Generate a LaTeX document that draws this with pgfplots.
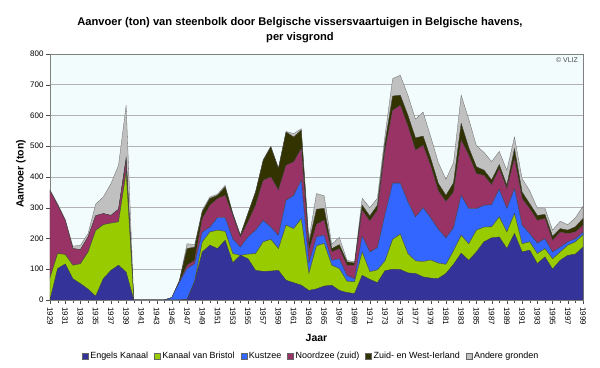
\documentclass[border=0pt]{standalone}
\usepackage{pgfplots}
\pgfplotsset{compat=1.18}
\usepackage{pgfplotstable}
\usepackage{fontspec}
\setmainfont{Liberation Sans}
\usetikzlibrary{calc}
\definecolor{cE}{HTML}{333399}
\definecolor{cB}{HTML}{99CC00}
\definecolor{cK}{HTML}{3366FF}
\definecolor{cN}{HTML}{993366}
\definecolor{cZ}{HTML}{333300}
\definecolor{cA}{HTML}{C0C0C0}
\definecolor{plotbg}{RGB}{242,252,252}
\pgfplotstableread{
year E B K N Z A
1929 0 72 0 283 0 3
1930 102 49 0 157 0 5
1931 117 31 0 111 0 3
1932 69 44 0 54 0 8
1933 53 65 0 46 0 14
1934 35 121 0 49 0 11
1935 12 214 0 48 0 38
1936 69 176 0 36 0 54
1937 96 154 0 25 0 103
1938 113 141 0 41 0 143
1939 90 325 0 37 10 171
1940 0 0 0 0 0 0
1941 0 0 0 0 0 0
1942 0 0 0 0 0 0
1943 0 0 0 0 0 0
1944 0 0 0 0 0 0
1945 0 0 8 0 0 0
1946 0 0 58 2 3 1
1947 2 0 100 11 54 16
1948 59 2 57 11 43 8
1949 156 33 32 43 22 6
1950 178 43 16 71 22 5
1951 167 60 41 62 10 4
1952 194 29 45 72 27 6
1953 121 30 48 76 6 2
1954 145 0 27 33 5 2
1955 134 15 56 49 27 2
1956 96 55 76 81 43 2
1957 93 96 70 130 65 2
1958 94 103 40 163 98 2
1959 96 71 43 147 70 3
1960 64 179 81 114 108 2
1961 56 176 108 109 81 11
1962 48 216 125 103 60 5
1963 31 55 34 40 25 12
1964 36 140 29 41 49 51
1965 45 139 27 49 38 41
1966 48 65 16 27 11 14
1967 31 71 32 33 13 24
1968 24 37 19 33 11 5
1969 21 38 10 44 7 4
1970 80 76 52 84 16 23
1971 67 25 64 101 16 27
1972 56 42 72 122 16 23
1973 95 32 151 209 24 24
1974 100 97 183 237 46 57
1975 99 115 166 253 33 65
1976 88 63 168 247 35 65
1977 86 41 143 217 40 61
1978 75 50 175 203 30 78
1979 71 59 137 169 24 71
1980 70 50 110 125 24 68
1981 86 30 86 118 20 52
1982 116 44 75 116 30 66
1983 152 58 130 180 54 92
1984 129 54 114 173 25 93
1985 156 71 70 114 22 69
1986 189 48 71 97 17 58
1987 202 36 72 65 15 60
1988 205 65 90 67 13 43
1989 167 54 76 65 11 49
1990 216 65 81 98 32 38
1991 156 27 60 87 21 44
1992 162 27 27 81 16 42
1993 118 33 34 74 16 24
1994 140 27 32 66 13 21
1995 100 34 22 38 13 20
1996 129 27 16 49 11 24
1997 145 33 11 27 11 18
1998 149 40 10 22 17 29
1999 172 40 9 22 22 40
}\data
\begin{document}
\begin{tikzpicture}
\begin{axis}[
  name=ax,
  scale only axis,
  width=533bp, height=246bp,
  xmin=1929, xmax=1999, ymin=0, ymax=800,
  stack plots=y,
  axis background/.style={fill=plotbg},
  axis line style={black!50},
  ytick={0,100,...,800},
  xtick={1929,1931,...,1999},
  minor xtick={1930,1932,...,1998},
  ymajorgrids, major grid style={black!30, line width=0.6pt},
  tick align=outside,
  major tick length=4bp, minor tick length=3bp,
  tick style={black!70},
  xtick pos=bottom, ytick pos=left,
  /pgf/number format/1000 sep={},
  /pgf/number format/assume math mode=true,
  yticklabel style={font=\fontsize{8}{9}\selectfont, xshift=1bp},
  xticklabel style={font=\fontsize{8}{9}\selectfont, rotate=-90, anchor=west, yshift=0bp},
  legend columns=6,
  legend style={at={(0.49,-0.228)}, anchor=center, draw=none, fill=none,
    font=\fontsize{9}{10}\selectfont,
    /tikz/every even column/.append style={column sep=4bp}},
  legend image code/.code={\draw[#1, draw=black!60, line width=0.3pt] (0bp,-3bp) rectangle (6bp,3bp);},
  every axis plot/.append style={line width=0.3pt},
]
\addplot[fill=cE, draw=black!75] table[x=year, y=E] {\data} \closedcycle;
\addlegendentry{Engels Kanaal}
\addplot[fill=cB, draw=black!75] table[x=year, y=B] {\data} \closedcycle;
\addlegendentry{Kanaal van Bristol}
\addplot[fill=cK, draw=black!75] table[x=year, y=K] {\data} \closedcycle;
\addlegendentry{Kustzee}
\addplot[fill=cN, draw=black!75] table[x=year, y=N] {\data} \closedcycle;
\addlegendentry{Noordzee (zuid)}
\addplot[fill=cZ, draw=black!75] table[x=year, y=Z] {\data} \closedcycle;
\addlegendentry{Zuid- en West-Ierland}
\addplot[fill=cA, draw=black!60] table[x=year, y=A] {\data} \closedcycle;
\addlegendentry{Andere gronden}
\end{axis}
\node[font=\bfseries\fontsize{11.2}{15}\selectfont, align=center] at ($(ax.north)+(-16.5bp,23.5bp)$) {Aanvoer (ton) van steenbolk door Belgische vissersvaartuigen in Belgische havens,\\per visgrond};
\node[font=\bfseries\fontsize{10.5}{12}\selectfont, rotate=90] at ($(ax.west)+(-29bp,3bp)$) {Aanvoer (ton)};
\node[font=\bfseries\fontsize{10.5}{12}\selectfont] at ($(ax.south)+(0,-38bp)$) {Jaar};
\node[font=\fontsize{7}{8}\selectfont, text=black!70] at ($(ax.north east)+(-16bp,-6bp)$) {© VLIZ};
\pgfresetboundingbox
\path ($(ax.south west)+(-50bp,-68bp)$) rectangle ($(ax.north east)+(17bp,54bp)$);
\end{tikzpicture}
\end{document}
